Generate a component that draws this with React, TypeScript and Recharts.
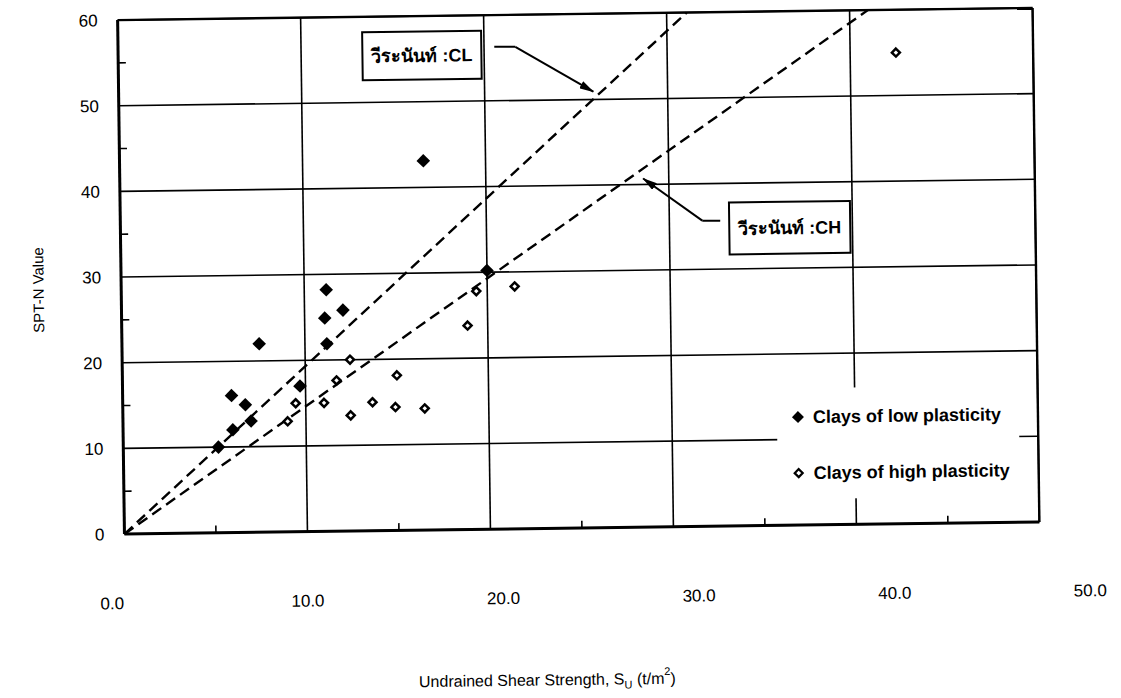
import React from 'react';
import {
  ScatterChart,
  Scatter,
  XAxis,
  YAxis,
  CartesianGrid,
  ReferenceLine,
  ReferenceArea,
  Legend,
  Label,
} from 'recharts';

// Clays of low plasticity: undrained shear strength Su (t/m²) and SPT-N
const lowSu = [5.2, 6.0, 5.95, 6.7, 7.0, 7.5, 9.7, 11.1, 11.2, 11.2, 12.1, 16.6, 20.0];
const lowN = [10.0, 12.0, 16.0, 14.9, 13.0, 22.0, 17.0, 24.9, 21.9, 28.2, 25.8, 43.1, 30.2];

// Clays of high plasticity
const highSu = [9.0, 9.45, 11.0, 11.7, 12.45, 12.45, 13.65, 14.9, 15.0, 16.5, 18.9, 19.4, 21.5, 42.5];
const highN = [12.9, 15.0, 15.0, 17.6, 20.0, 13.5, 15.0, 14.4, 18.1, 14.2, 23.8, 27.8, 28.3, 55.0];

// Proposed correlation lines, from the origin to the top of the chart
const clLineSu = [0, 31.1];
const clLineN = [0, 60];
const chLineSu = [0, 41.0];
const chLineN = [0, 60];

const xTicks = [0, 10, 20, 30, 40, 50];
const yTicks = [0, 10, 20, 30, 40, 50, 60];
const xMinorTicks = [5, 15, 25, 35, 45];
const yMinorTicks = [5, 15, 25, 35, 45, 55];

const seriesNames = ['Clays of low plasticity', 'Clays of high plasticity'];
const lineNames = ['วีระนันท์ :CL', 'วีระนันท์ :CH'];

// Callout boxes and leader lines, in data units (Su, N)
const clNoteBox = { su: [13.35, 19.85], n: [52.6, 58.2] };
const clLeaderSu = [20.56, 21.71, 25.94];
const clLeaderN = [56.3, 56.27, 50.9];
const chNoteBox = { su: [33.27, 39.88], n: [31.7, 37.76] };
const chLeaderSu = [32.78, 31.8, 28.6];
const chLeaderN = [35.64, 35.68, 40.7];

const toPoints = (xs: number[], ys: number[]) => xs.map((su, i) => ({ su, n: ys[i] }));

const lowData = toPoints(lowSu, lowN);
const highData = toPoints(highSu, highN);
const clLine = toPoints(clLineSu, clLineN);
const chLine = toPoints(chLineSu, chLineN);

const FONT = "'Liberation Sans', Arial, Helvetica, sans-serif";
const INK = '#000';

// chart geometry
const W = 1121;
const H = 698;
const PLOT_LEFT = 121;
const MARGIN = { top: 14, right: 85, bottom: 0, left: 0 };
const X_AXIS_HEIGHT = 170;
const LABEL_SPREAD = 0.0689;
const LABEL_SHIFT = -13;

const FilledDiamond = (props: any) => {
  const { cx, cy } = props;
  const r = 6.8;
  return (
    <polygon
      points={`${cx},${cy - r} ${cx + r},${cy} ${cx},${cy + r} ${cx - r},${cy}`}
      fill={INK}
    />
  );
};

const OpenDiamond = (props: any) => {
  const { cx, cy } = props;
  const r = 4.0;
  return (
    <polygon
      points={`${cx},${cy - r} ${cx + r},${cy} ${cx},${cy + r} ${cx - r},${cy}`}
      fill="#fff"
      stroke={INK}
      strokeWidth={2.5}
    />
  );
};

const NoMarker = () => <g />;

const XTick = (props: any) => {
  const { x, y, payload } = props;
  const lx = x + (x - PLOT_LEFT) * LABEL_SPREAD + LABEL_SHIFT;
  return (
    <text x={lx} y={y + 69} dy="0.355em" textAnchor="middle" fontSize={17} fill={INK} fontFamily={FONT}>
      {Number(payload.value).toFixed(1)}
    </text>
  );
};

const XTitle = (props: any) => {
  const { viewBox } = props;
  const x = viewBox.x + 421;
  const y = viewBox.y + 157;
  return (
    <text x={x} y={y} textAnchor="middle" fontSize={16} fill={INK} fontFamily={FONT}>
      Undrained Shear Strength, S
      <tspan fontSize={11} dy={4}>U</tspan>
      <tspan dy={-4}> (t/m</tspan>
      <tspan fontSize={11} dy={-9}>2</tspan>
      <tspan dy={9}>)</tspan>
    </text>
  );
};

const YTitle = (props: any) => {
  const { viewBox } = props;
  const x = viewBox.x + 38;
  const y = viewBox.y + viewBox.height * 0.523;
  return (
    <text
      x={x}
      y={y}
      textAnchor="middle"
      dominantBaseline="central"
      fontSize={15}
      fill={INK}
      fontFamily={FONT}
      transform={`rotate(-90 ${x} ${y})`}
    >
      SPT-N Value
    </text>
  );
};

const LegendMarker = ({ filled }: { filled: boolean }) => (
  <svg width={14} height={14} style={{ display: 'block' }}>
    {filled ? (
      <polygon points="7,1 13,7 7,13 1,7" fill={INK} />
    ) : (
      <polygon points="7,3 11,7 7,11 3,7" fill="#fff" stroke={INK} strokeWidth={2.2} />
    )}
  </svg>
);

const LegendBox = () => (
  <div
    style={{
      position: 'relative',
      width: '100%',
      height: '100%',
      background: '#fff',
      fontFamily: FONT,
      fontSize: 18,
      fontWeight: 'bold',
      color: INK,
    }}
  >
    {seriesNames.map((name, i) => (
      <div
        key={name}
        style={{
          position: 'absolute',
          left: 14,
          top: i === 0 ? 18 : 74,
          height: 22,
          display: 'flex',
          alignItems: 'center',
          whiteSpace: 'nowrap',
        }}
      >
        <LegendMarker filled={i === 0} />
        <span style={{ marginLeft: 8, lineHeight: '22px' }}>{name}</span>
      </div>
    ))}
  </div>
);

const Leader = (props: any) => (
  <line x1={props.x1} y1={props.y1} x2={props.x2} y2={props.y2} stroke={INK} strokeWidth={2} />
);
const ArrowLeader = (props: any) => (
  <line
    x1={props.x1}
    y1={props.y1}
    x2={props.x2}
    y2={props.y2}
    stroke={INK}
    strokeWidth={2}
    markerEnd="url(#calloutArrow)"
  />
);

const noteLabel = (text: string) => (
  <Label value={text} position="center" fontSize={18} fontWeight="bold" fill={INK} fontFamily={FONT} />
);

export default function App() {
  return (
    <div
      style={{
        position: 'absolute',
        left: 0,
        top: 0,
        width: W,
        height: H,
        background: '#fff',
        fontFamily: FONT,
        transform: 'rotate(-0.76deg)',
        transformOrigin: '578px 271px',
      }}
    >
      <svg width={0} height={0} style={{ position: 'absolute' }}>
        <defs>
          <marker
            id="calloutArrow"
            viewBox="0 0 15 8"
            refX={14}
            refY={4}
            markerWidth={15}
            markerHeight={8}
            markerUnits="userSpaceOnUse"
            orient="auto"
          >
            <path d="M0,0 L15,4 L0,8 z" fill={INK} />
          </marker>
        </defs>
      </svg>
      <ScatterChart width={W} height={H} margin={MARGIN}>
        <CartesianGrid stroke={INK} strokeWidth={1.6} strokeOpacity={1} />
        <XAxis
          type="number"
          dataKey="su"
          domain={[0, 50]}
          ticks={xTicks}
          interval={0}
          height={X_AXIS_HEIGHT}
          axisLine={{ stroke: INK, strokeWidth: 3 }}
          tickLine={false}
          tickSize={0}
          tickMargin={0}
          tick={<XTick />}
        >
          <Label content={<XTitle />} />
        </XAxis>
        <YAxis
          type="number"
          dataKey="n"
          domain={[0, 60]}
          ticks={yTicks}
          interval={0}
          width={PLOT_LEFT}
          axisLine={{ stroke: INK, strokeWidth: 3 }}
          tickLine={false}
          tickSize={0}
          tickMargin={20}
          tick={{ fill: INK, fontSize: 17, fontFamily: FONT }}
        >
          <Label content={<YTitle />} />
        </YAxis>

        <ReferenceLine y={60} stroke={INK} strokeWidth={2.4} ifOverflow="visible" />
        <ReferenceLine x={50} stroke={INK} strokeWidth={2.4} ifOverflow="visible" />

        {yMinorTicks.map((v) => (
          <ReferenceLine
            key={`ym${v}`}
            segment={[{ x: 0, y: v }, { x: 0.42, y: v }]}
            stroke={INK}
            strokeWidth={1.6}
          />
        ))}
        {xMinorTicks.map((v) => (
          <ReferenceLine
            key={`xm${v}`}
            segment={[{ x: v, y: 0 }, { x: v, y: 0.85 }]}
            stroke={INK}
            strokeWidth={1.6}
          />
        ))}

        <Scatter
          name={lineNames[0]}
          data={clLine}
          line={{ stroke: INK, strokeWidth: 2.4, strokeDasharray: '11 6' }}
          shape={<NoMarker />}
          legendType="none"
          isAnimationActive={false}
        />
        <Scatter
          name={lineNames[1]}
          data={chLine}
          line={{ stroke: INK, strokeWidth: 2.4, strokeDasharray: '11 6' }}
          shape={<NoMarker />}
          legendType="none"
          isAnimationActive={false}
        />

        <Scatter name={seriesNames[0]} data={lowData} shape={<FilledDiamond />} isAnimationActive={false} />
        <Scatter name={seriesNames[1]} data={highData} shape={<OpenDiamond />} isAnimationActive={false} />

        <ReferenceArea
          x1={clNoteBox.su[0]}
          x2={clNoteBox.su[1]}
          y1={clNoteBox.n[0]}
          y2={clNoteBox.n[1]}
          fill="#fff"
          fillOpacity={1}
          stroke={INK}
          strokeWidth={2}
          ifOverflow="visible"
        >
          {noteLabel(lineNames[0])}
        </ReferenceArea>
        <ReferenceLine
          segment={[{ x: clLeaderSu[0], y: clLeaderN[0] }, { x: clLeaderSu[1], y: clLeaderN[1] }]}
          shape={<Leader />}
        />
        <ReferenceLine
          segment={[{ x: clLeaderSu[1], y: clLeaderN[1] }, { x: clLeaderSu[2], y: clLeaderN[2] }]}
          shape={<ArrowLeader />}
        />

        <ReferenceArea
          x1={chNoteBox.su[0]}
          x2={chNoteBox.su[1]}
          y1={chNoteBox.n[0]}
          y2={chNoteBox.n[1]}
          fill="#fff"
          fillOpacity={1}
          stroke={INK}
          strokeWidth={2}
          ifOverflow="visible"
        >
          {noteLabel(lineNames[1])}
        </ReferenceArea>
        <ReferenceLine
          segment={[{ x: chLeaderSu[0], y: chLeaderN[0] }, { x: chLeaderSu[1], y: chLeaderN[1] }]}
          shape={<Leader />}
        />
        <ReferenceLine
          segment={[{ x: chLeaderSu[1], y: chLeaderN[1] }, { x: chLeaderSu[2], y: chLeaderN[2] }]}
          shape={<ArrowLeader />}
        />

        <Legend
          layout="horizontal"
          verticalAlign="middle"
          align="center"
          content={<LegendBox />}
          wrapperStyle={{ position: 'absolute', left: 775, top: 391, width: 242, height: 111, margin: 0 }}
        />
      </ScatterChart>
    </div>
  );
}
